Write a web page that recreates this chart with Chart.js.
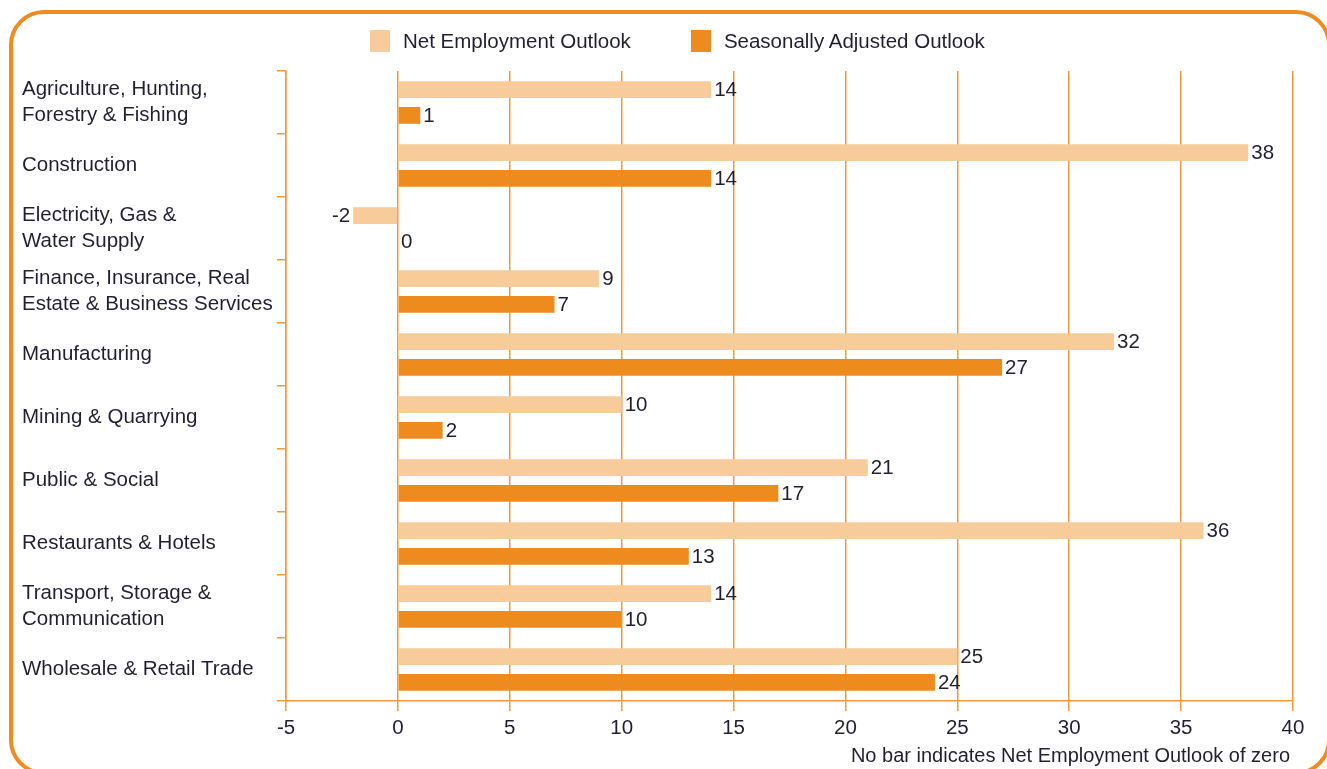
<!DOCTYPE html>
<html>
<head>
<meta charset="utf-8">
<title>Net Employment Outlook by Industry Sector</title>
<script src="https://cdn.jsdelivr.net/npm/chart.js@4.4.1/dist/chart.umd.min.js"></script>
<style>
  body { margin: 0; background: #fff; overflow: hidden; font-family: "Liberation Sans", Arial, sans-serif; }
  #frame { position: absolute; left: 9px; top: 10px; width: 1322px; height: 765px; box-sizing: border-box;
           border: 4px solid #ee8b22; border-radius: 35px; }
  #chartBox { position: absolute; left: 0; top: 0; width: 1327px; height: 769px; }
  #legend { position: absolute; left: 370px; top: 29px; display: flex; align-items: center; }
  #legend .item { display: flex; align-items: center; font-size: 20.5px; color: #231f30; margin-right: 60px; }
  #legend .box { width: 20px; height: 22px; margin-right: 13px; }
</style>
</head>
<body>
<div id="frame"></div>
<div id="chartBox"><canvas id="chart" width="1327" height="769"></canvas></div>
<div id="legend"></div>
<script>
// sectors (multi-line labels as arrays)
const sectors = [
  ['Agriculture, Hunting,', 'Forestry & Fishing'],
  'Construction',
  ['Electricity, Gas &', 'Water Supply'],
  ['Finance, Insurance, Real', 'Estate & Business Services'],
  'Manufacturing',
  'Mining & Quarrying',
  'Public & Social',
  'Restaurants & Hotels',
  ['Transport, Storage &', 'Communication'],
  'Wholesale & Retail Trade'
];
const netOutlook = [14, 38, -2, 9, 32, 10, 21, 36, 14, 25];
const adjustedOutlook = [1, 14, 0, 7, 27, 2, 17, 13, 10, 24];
const seriesNames = ['Net Employment Outlook', 'Seasonally Adjusted Outlook'];
const footNote = 'No bar indicates Net Employment Outlook of zero';

const paleOrange = '#f8cb9b';
const orange = '#ee8b1f';
const lineOrange = '#f29a3a';
const textColor = '#231f30';
const fontFamily = '"Liberation Sans", Arial, sans-serif';

// draws the numbers at the end of each bar, and the note under the axis
const valueLabels = {
  id: 'valueLabels',
  afterDatasetsDraw(chart) {
    const ctx = chart.ctx;
    ctx.save();
    ctx.font = '20.5px ' + fontFamily;
    ctx.fillStyle = textColor;
    ctx.textBaseline = 'middle';
    chart.data.datasets.forEach(function (ds, i) {
      chart.getDatasetMeta(i).data.forEach(function (bar, j) {
        const v = ds.data[j];
        if (v < 0) {
          ctx.textAlign = 'right';
          ctx.fillText(v, bar.x - 3, bar.y + 1);
        } else {
          ctx.textAlign = 'left';
          ctx.fillText(v, bar.x + 3, bar.y + 1);
        }
      });
    });
    ctx.restore();
  },
  afterDraw(chart) {
    const ctx = chart.ctx;
    ctx.save();
    ctx.font = '20px ' + fontFamily;
    ctx.fillStyle = textColor;
    ctx.textAlign = 'right';
    ctx.textBaseline = 'alphabetic';
    ctx.fillText(footNote, 1290, 762);
    ctx.restore();
  }
};

const chart = new Chart(document.getElementById('chart'), {
  type: 'bar',
  data: {
    labels: sectors,
    datasets: [
      { label: seriesNames[0], data: netOutlook, backgroundColor: paleOrange },
      { label: seriesNames[1], data: adjustedOutlook, backgroundColor: orange }
    ]
  },
  options: {
    indexAxis: 'y',
    responsive: false,
    animation: false,
    categoryPercentage: 0.82,
    barPercentage: 0.65,
    layout: { padding: { top: 71, left: 22, right: 34, bottom: 0 } },
    plugins: {
      legend: { display: false },
      tooltip: { enabled: false }
    },
    scales: {
      x: {
        min: -5,
        max: 40,
        ticks: { stepSize: 5, color: textColor, font: { family: fontFamily, size: 20.5 }, padding: 5 },
        grid: { color: lineOrange, lineWidth: 1.5, tickLength: 10 },
        border: { color: lineOrange, width: 1.5 },
        afterFit: function (scale) { scale.height = 68; }
      },
      y: {
        ticks: { color: textColor, crossAlign: 'far', font: { family: fontFamily, size: 20.5, lineHeight: 1.28 } },
        grid: { offset: true, drawOnChartArea: false, color: lineOrange, lineWidth: 1.5, tickLength: 9 },
        border: { color: lineOrange, width: 1.5 },
        afterFit: function (scale) { scale.width = 264; }
      }
    }
  },
  plugins: [valueLabels]
});

// html legend built from the datasets
const legendEl = document.getElementById('legend');
chart.data.datasets.forEach(function (ds) {
  const item = document.createElement('div');
  item.className = 'item';
  const box = document.createElement('span');
  box.className = 'box';
  box.style.background = ds.backgroundColor;
  item.appendChild(box);
  item.appendChild(document.createTextNode(ds.label));
  legendEl.appendChild(item);
});
</script>
</body>
</html>
